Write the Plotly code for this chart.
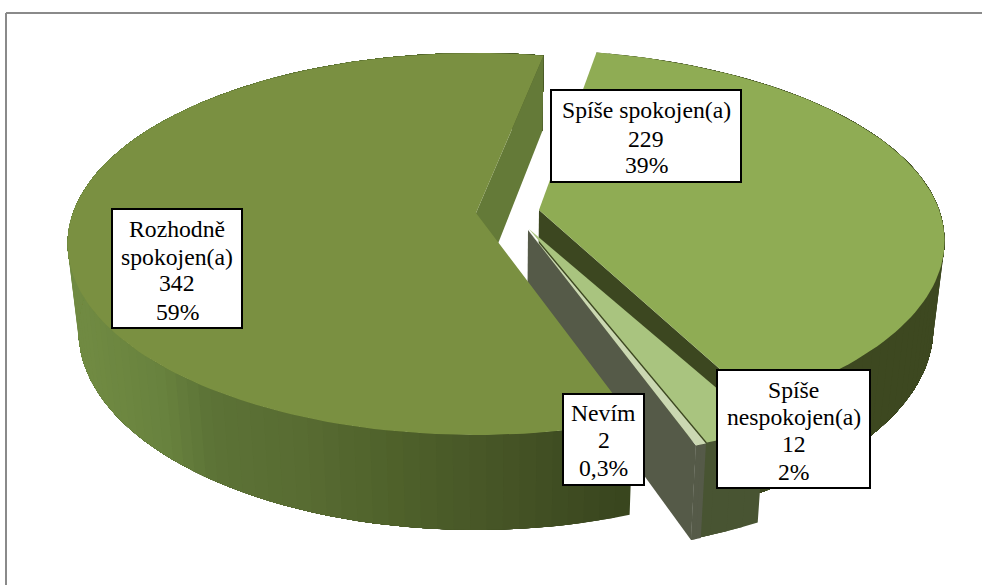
import math
import plotly.graph_objects as go

categories = ["Spíše spokojen(a)", "Spíše nespokojen(a)", "Nevím", "Rozhodně spokojen(a)"]
counts = [229, 12, 2, 342]
share_labels = ["39%", "2%", "0,3%", "59%"]

# projection of the tilted pie onto the page
FIRST_ANGLE = 11.2
PERSPECTIVE = 0.162
RADIUS_X = 403
RADIUS_Y = 186
DEPTH = 85
DEPTH_TILT = 10
FLOOR_SCALE = 0.975
FLOOR_CENTER = 500
APEX = [(539, 210), (529, 229), (528, 230), (476, 213)]
# per-slice lens correction: x scale, y scale, lean of the far edge
LENS = [(0.993, 1.0, -10), (1.07, 1.04, 0), (1.07, 1.04, 0), (1.0, 1.0, 0)]
TOP_COLORS = ["#8fac54", "#a9c47f", "#cbd8b2", "#7a9041"]
FRAME_COLOR = "#8a8a8a"

W, H = 982, 585
FONT = "Liberation Serif, Times New Roman, serif"
FS = 23.7


def floor_x(x):
    return FLOOR_CENTER + (x - FLOOR_CENTER) * FLOOR_SCALE


def project(idx, deg):
    a = math.radians(deg)
    u, v = math.sin(a), math.cos(a)
    w = 1 + PERSPECTIVE * v
    sx, sy, lean = LENS[idx]
    x = APEX[idx][0] + sx * RADIUS_X * u / w + lean * max(v, 0) ** 2
    y = APEX[idx][1] - sy * RADIUS_Y * v / w
    return x, y, DEPTH - DEPTH_TILT * v


def mix(stops, t):
    if t <= stops[0][0]:
        c = stops[0][1]
        return f"rgb({c[0]},{c[1]},{c[2]})"
    for (a, ca), (b, cb) in zip(stops, stops[1:]):
        if t <= b:
            f = (t - a) / (b - a)
            c = [round(ca[i] + (cb[i] - ca[i]) * f) for i in range(3)]
            return f"rgb({c[0]},{c[1]},{c[2]})"
    c = stops[-1][1]
    return f"rgb({c[0]},{c[1]},{c[2]})"


fig = go.Figure()


def poly(pts, color):
    xs = [p[0] for p in pts] + [pts[0][0]]
    ys = [p[1] for p in pts] + [pts[0][1]]
    fig.add_trace(go.Scatter(x=xs, y=ys, mode="lines", fill="toself", fillcolor=color,
                             line=dict(width=0), hoverinfo="skip", showlegend=False))


def arc(idx, a0, a1, n):
    return [project(idx, a0 + (a1 - a0) * i / n) for i in range(n + 1)]


def rim_wall(idx, a0, a1, color_fn):
    # painted in overlapping layers so the shading has no seams
    n = max(2, int((a1 - a0) / 2))
    pts = arc(idx, a0, a1, n)
    for i in range(n):
        rest = pts[i:]
        shape = [(p[0], p[1]) for p in rest] + [(floor_x(p[0]), p[1] + p[2]) for p in reversed(rest)]
        poly(shape, color_fn((rest[0][0] + rest[1][0]) / 2))


def radial_wall(idx, deg, color):
    p = project(idx, deg)
    apex = APEX[idx]
    poly([apex, (p[0], p[1]), (floor_x(p[0]), p[1] + p[2]), (floor_x(apex[0]), apex[1] + DEPTH)], color)


def top(idx, a0, a1, color):
    n = max(2, int((a1 - a0) / 1.5))
    pts = arc(idx, a0, a1, n)
    poly([APEX[idx]] + [(p[0], p[1]) for p in pts], color)


total = sum(counts)
spans = []
angle = FIRST_ANGLE
for c in counts:
    spans.append((angle, angle + 360 * c / total))
    angle = spans[-1][1]

MAIN_STOPS = [(85, (112, 138, 66)), (160, (104, 130, 62)), (210, (92, 114, 54)), (300, (88, 108, 50)),
              (400, (78, 96, 42)), (500, (70, 84, 38)), (630, (56, 69, 30))]

# Spíše spokojen(a)
a0, a1 = spans[0]
rim_wall(0, a0, a1, lambda x: "#3d4820")
radial_wall(0, a1, "#3c4720")
top(0, a0, a1, TOP_COLORS[0])
# Spíše nespokojen(a): wall tucked slightly under the neighbouring slice
a0, a1 = spans[1]
rim_wall(1, a0, a1 + 1, lambda x: "#485432")
top(1, a0, a1, TOP_COLORS[1])
# Nevím
a0, a1 = spans[2]
rim_wall(2, a0, a1, lambda x: "#555a48")
radial_wall(2, a1, "#555a48")
top(2, a0, a1, TOP_COLORS[2])
# Rozhodně spokojen(a)
a0, a1 = spans[3]
rim_wall(3, a0, a1, lambda x: mix(MAIN_STOPS, x))
radial_wall(3, a1, "#647a38")
top(3, a0, a1, TOP_COLORS[3])

boxes = [
    (551, 90, 741, 182, [110, 139, 165], [categories[0], str(counts[0]), share_labels[0]]),
    (112, 209, 242, 328, [229, 257, 283, 312], ["Rozhodně", "spokojen(a)", str(counts[3]), share_labels[3]]),
    (563, 394, 644, 485, [413, 440, 468], [categories[2], str(counts[2]), share_labels[2]]),
    (717, 370, 870, 488, [390, 417, 444, 472], ["Spíše", "nespokojen(a)", str(counts[1]), share_labels[1]]),
]
shapes = [
    dict(type="line", x0=6, x1=6, y0=13, y1=H, line=dict(color=FRAME_COLOR, width=2), layer="above"),
    dict(type="line", x0=6, x1=W, y0=13, y1=13, line=dict(color=FRAME_COLOR, width=2), layer="above"),
]
annotations = []
for x0, y0, x1, y1, ys, lines in boxes:
    shapes.append(dict(type="rect", x0=x0, x1=x1, y0=y0, y1=y1, fillcolor="white",
                       line=dict(color="black", width=2), layer="above"))
    for y, t in zip(ys, lines):
        annotations.append(dict(x=(x0 + x1) / 2, y=y, text=t, showarrow=False, xanchor="center", yanchor="middle",
                                font=dict(family=FONT, size=FS, color="black")))

fig.update_layout(
    width=W, height=H, margin=dict(l=0, r=0, t=0, b=0), paper_bgcolor="white", plot_bgcolor="white",
    xaxis=dict(range=[0, W], visible=False, fixedrange=True),
    yaxis=dict(range=[H, 0], visible=False, fixedrange=True),
    shapes=shapes, annotations=annotations, showlegend=False,
)
fig.write_html("out.html", config=dict(displayModeBar=False),
               post_script="document.body.style.margin='0';document.body.style.overflow='hidden';")
